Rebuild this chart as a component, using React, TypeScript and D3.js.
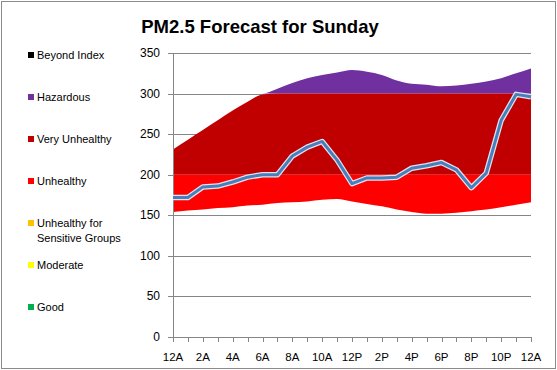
import * as d3 from 'd3';
import { useEffect, useRef } from 'react';

// hourly forecast, 12A .. 12A (25 points)
const hours = d3.range(0, 25);
const forecast = [172, 172, 185, 186, 191, 197, 200, 200, 223, 234, 241, 218, 189, 196, 196, 197, 208, 211, 215, 206, 184, 202, 267, 299, 296];
const upperBound = [231, 243, 255, 267, 279, 290, 299, 306, 313, 319, 323, 326, 329, 327, 323, 316, 312, 311, 309, 310, 312, 315, 319, 325, 331];
const lowerBound = [154, 156, 157, 159, 160, 162, 163, 165, 166, 167, 169, 170, 167, 164, 161, 157, 154, 152, 152, 153, 155, 157, 160, 163, 166];

const tickLabels = ['12A', '2A', '4A', '6A', '8A', '10A', '12P', '2P', '4P', '6P', '8P', '10P', '12A'];
const yTicks = [0, 50, 100, 150, 200, 250, 300, 350];

const categories = [
  { name: 'Beyond Index', color: '#000000', lo: 500, hi: 1000 },
  { name: 'Hazardous', color: '#7030A0', lo: 300, hi: 500 },
  { name: 'Very Unhealthy', color: '#C00000', lo: 200, hi: 300 },
  { name: 'Unhealthy', color: '#FF0000', lo: 150, hi: 200 },
  { name: 'Unhealthy for|Sensitive Groups', color: '#FFC000', lo: 100, hi: 150 },
  { name: 'Moderate', color: '#FFFF00', lo: 50, hi: 100 },
  { name: 'Good', color: '#00B050', lo: 0, hi: 50 },
];

const W = 557;
const H = 370;
const margin = { top: 53, left: 173, right: 26, bottom: 33 };
const font = '"Liberation Sans", Arial, sans-serif';

const App = () => {
  const ref = useRef<SVGSVGElement>(null);

  useEffect(() => {
    const svg = d3.select(ref.current);
    svg.selectAll('*').remove();

    const x = d3.scaleLinear().domain([0, 24]).range([margin.left, W - margin.right]);
    const y = d3.scaleLinear().domain([0, 350]).range([H - margin.bottom, margin.top]);

    svg.append('rect')
      .attr('x', 1.5).attr('y', 1.5)
      .attr('width', W - 3).attr('height', H - 3)
      .attr('fill', '#fff').attr('stroke', '#8a8a8a');

    // gridlines
    svg.append('g')
      .selectAll('line')
      .data(yTicks.filter((t) => t > 0))
      .enter()
      .append('line')
      .attr('x1', margin.left).attr('x2', W - margin.right)
      .attr('y1', (d) => Math.round(y(d)) + 0.5).attr('y2', (d) => Math.round(y(d)) + 0.5)
      .attr('stroke', '#868686');

    // category bands between lower and upper bound
    categories.forEach((c) => {
      const area = d3.area<number>()
        .x((h) => x(h))
        .y0((h) => y(Math.min(Math.max(lowerBound[h], c.lo), c.hi)))
        .y1((h) => {
          const lo = Math.min(Math.max(lowerBound[h], c.lo), c.hi);
          return y(Math.max(lo, Math.min(upperBound[h], c.hi)));
        })
        .curve(d3.curveMonotoneX);
      svg.append('path').datum(hours).attr('d', area).attr('fill', c.color);
    });

    // axes
    const axisG = svg.append('g').attr('stroke', '#868686');
    axisG.append('line')
      .attr('x1', margin.left + 0.5).attr('x2', margin.left + 0.5)
      .attr('y1', y(350)).attr('y2', y(0));
    axisG.append('line')
      .attr('x1', margin.left).attr('x2', W - margin.right)
      .attr('y1', y(0) + 0.5).attr('y2', y(0) + 0.5);
    axisG.selectAll('.yt').data(yTicks).enter().append('line')
      .attr('x1', margin.left - 5).attr('x2', margin.left)
      .attr('y1', (d) => Math.round(y(d)) + 0.5).attr('y2', (d) => Math.round(y(d)) + 0.5);
    axisG.selectAll('.xt').data(hours).enter().append('line')
      .attr('x1', (d) => Math.round(x(d)) + 0.5).attr('x2', (d) => Math.round(x(d)) + 0.5)
      .attr('y1', y(0)).attr('y2', y(0) + 5);

    svg.append('g').selectAll('text').data(yTicks).enter().append('text')
      .attr('x', margin.left - 13).attr('y', (d) => y(d) + 4)
      .attr('text-anchor', 'end')
      .style('font', `12px ${font}`)
      .text((d) => d);

    svg.append('g').selectAll('text').data(tickLabels).enter().append('text')
      .attr('x', (_, i) => x(i * 2)).attr('y', H - 9)
      .attr('text-anchor', 'middle')
      .style('font', `11.5px ${font}`)
      .text((d) => d);

    // forecast line
    const line = d3.line<number>().x((h) => x(h)).y((h) => y(forecast[h]));
    svg.append('path').datum(hours).attr('d', line)
      .attr('fill', 'none').attr('stroke', '#dbe5f1').attr('stroke-width', 5.5)
      .attr('stroke-linejoin', 'round');
    svg.append('path').datum(hours).attr('d', line)
      .attr('fill', 'none').attr('stroke', '#4a7ebb').attr('stroke-width', 3)
      .attr('stroke-linejoin', 'round');

    // title
    svg.append('text')
      .attr('x', 260).attr('y', 33)
      .attr('text-anchor', 'middle')
      .style('font', `bold 18.5px ${font}`)
      .text('PM2.5 Forecast for Sunday');

    // legend
    const legendY = [55, 97, 139, 181, 223, 265, 307];
    const lg = svg.append('g').selectAll('g').data(categories).enter().append('g')
      .attr('transform', (_, i) => `translate(28, ${legendY[i]})`);
    lg.append('rect').attr('x', 0).attr('y', -3).attr('width', 6).attr('height', 6)
      .attr('fill', (d) => d.color);
    lg.each(function (d) {
      const t = d3.select(this).append('text')
        .attr('x', 9).attr('y', 4)
        .style('font', `11px ${font}`);
      d.name.split('|').forEach((part, i) => {
        t.append('tspan').attr('x', 9).attr('dy', i === 0 ? 0 : 15).text(part);
      });
    });
  }, []);

  return (
    <svg
      ref={ref}
      width={W}
      height={H}
      style={{ position: 'absolute', left: 0, top: 0 }}
    />
  );
};

export default App;
